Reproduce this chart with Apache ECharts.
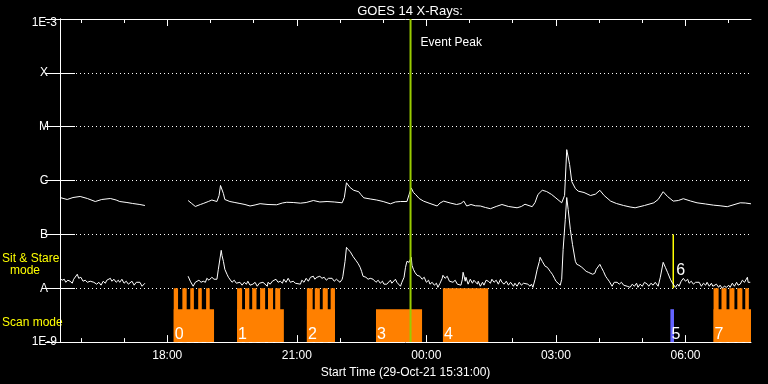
<!DOCTYPE html>
<html><head><meta charset="utf-8">
<script src="https://cdn.jsdelivr.net/npm/echarts@6/dist/echarts.min.js"></script>
<style>html,body{margin:0;padding:0;background:#000}#c{width:768px;height:384px}</style>
</head><body><div id="c"></div>
<script>
// ---- data ----
const TITLE = 'GOES 14 X-Rays:';
const START_LABEL = 'Start Time (29-Oct-21 15:31:00)';
const START_CLOCK = '15:31';
const SPAN_MINUTES = 960;
const hourTickClock = ['16:00','17:00','18:00','19:00','20:00','21:00','22:00','23:00','00:00','01:00','02:00','03:00','04:00','05:00','06:00','07:00'];
const xLabelClock = ['18:00','21:00','00:00','03:00','06:00'];
const yTickLabels = ['1E-9','A','B','C','M','X','1E-3']; // 1e-9 ... 1e-3
const modeLabels = ['Sit & Stare', 'mode', 'Scan mode'];

// [minutes since start, flux W/m^2]
const longXray = [[0,4.84e-7],[10,4.45e-7],[18,4.84e-7],[28,5.06e-7],[38,4.64e-7],[49,4.08e-7],[58,4.45e-7],[70,4.64e-7],[78,4.35e-7],[83,4.08e-7],[93,3.91e-7],[101,3.75e-7],[111,3.59e-7],[118,3.44e-7],[150,null],
[178,4.26e-7],[183,3.75e-7],[188,3.30e-7],[195,3.59e-7],[199,3.75e-7],[206,4.08e-7],[211,4.35e-7],[218,4.08e-7],[221,5.27e-7],[223,8.1e-7],[227,5.74e-7],[229,4.45e-7],[236,4.08e-7],[243,3.91e-7],[250,3.75e-7],[257,3.59e-7],[264,3.37e-7],[271,3.52e-7],[278,3.72e-7],[289,3.59e-7],[301,3.55e-7],[309,3.83e-7],[315,3.95e-7],[324,3.91e-7],[334,3.8e-7],[342,3.91e-7],[352,4.26e-7],[361,4.0e-7],[371,4.08e-7],[381,4.0e-7],[392,3.86e-7],[395,4.84e-7],[398,9.1e-7],[403,7.42e-7],[408,6.6e-7],[415,6.2e-7],[418,5.51e-7],[422,4.78e-7],[431,4.55e-7],[440,4.35e-7],[449,4.08e-7],[459,3.7e-7],[466,4.0e-7],[473,4.08e-7],[482,4.08e-7],[485,5.51e-7],[488,7.3e-7],[491,6.0e-7],[494,5.51e-7],[499,4.64e-7],[505,4.15e-7],[514,3.75e-7],[524,3.37e-7],[528,3.83e-7],[533,4.15e-7],[542,3.83e-7],[551,3.59e-7],[557,3.75e-7],[561,4.15e-7],[565,3.37e-7],[571,3.59e-7],[577,3.40e-7],[584,3.37e-7],[591,3.16e-7],[598,3.0e-7],[606,3.30e-7],[614,3.59e-7],[623,3.30e-7],[635,3.12e-7],[641,3.30e-7],[646,3.63e-7],[656,3.27e-7],[660,3.91e-7],[664,5.51e-7],[670,6.6e-7],[676,6.26e-7],[683,5.51e-7],[689,4.74e-7],[697,3.86e-7],[701,5.27e-7],[704,3.75e-6],[708,1.98e-6],[711,9.58e-7],[716,7.11e-7],[720,6.35e-7],[728,6.0e-7],[737,5.27e-7],[744,5.6e-7],[750,6.6e-7],[756,5.27e-7],[765,4.15e-7],[773,3.75e-7],[783,3.44e-7],[792,3.23e-7],[799,3.12e-7],[812,3.44e-7],[825,3.86e-7],[831,4.45e-7],[838,6.2e-7],[844,5.06e-7],[852,4.15e-7],[859,4.26e-7],[866,4.6e-7],[876,4.17e-7],[885,3.86e-7],[897,3.67e-7],[908,3.49e-7],[917,3.40e-7],[927,3.27e-7],[935,3.52e-7],[945,3.86e-7],[952,3.83e-7],[960,3.7e-7]];

const shortXray = [[0,1.53e-8],[3,1.41e-8],[6,1.47e-8],[8,1.29e-8],[11,1.41e-8],[14,1.35e-8],[17,1.24e-8],[19,1.47e-8],[24,1.82e-8],[26,1.53e-8],[29,1.60e-8],[32,1.35e-8],[35,1.41e-8],[38,1.29e-8],[39,1.19e-8],[42,1.35e-8],[44,1.24e-8],[47,1.29e-8],[51,1.19e-8],[54,1.29e-8],[57,1.14e-8],[60,1.35e-8],[63,1.24e-8],[65,1.41e-8],[70,1.53e-8],[72,1.35e-8],[75,1.47e-8],[78,1.29e-8],[81,1.41e-8],[83,1.29e-8],[86,1.47e-8],[89,1.24e-8],[92,1.35e-8],[95,1.19e-8],[97,1.19e-8],[100,1.35e-8],[103,1.14e-8],[106,1.29e-8],[108,1.19e-8],[111,1.29e-8],[114,1.09e-8],[115,1.14e-8],[118,1.24e-8],[150,null],
[178,1.67e-8],[181,1.35e-8],[183,1.24e-8],[185,1.09e-8],[188,1.29e-8],[190,1.19e-8],[193,1.41e-8],[196,1.29e-8],[199,1.35e-8],[202,1.29e-8],[204,1.53e-8],[207,1.41e-8],[211,1.60e-8],[214,1.47e-8],[218,1.47e-8],[220,2.25e-8],[224,5.06e-8],[225,4.08e-8],[227,3.16e-8],[229,2.25e-8],[232,1.82e-8],[234,1.60e-8],[236,1.47e-8],[239,1.29e-8],[242,1.41e-8],[245,1.24e-8],[247,1.35e-8],[250,1.29e-8],[253,1.14e-8],[256,1.29e-8],[259,1.19e-8],[261,1.35e-8],[264,1.14e-8],[268,1.19e-8],[271,1.29e-8],[274,1.09e-8],[277,1.24e-8],[279,1.14e-8],[282,1.29e-8],[288,1.09e-8],[289,1.29e-8],[292,1.19e-8],[295,1.35e-8],[297,1.24e-8],[300,1.47e-8],[303,1.29e-8],[306,1.35e-8],[309,1.24e-8],[311,1.47e-8],[314,1.29e-8],[317,1.53e-8],[320,1.29e-8],[324,1.35e-8],[327,1.24e-8],[329,1.35e-8],[334,1.19e-8],[336,1.41e-8],[339,1.29e-8],[342,1.53e-8],[345,1.35e-8],[348,1.60e-8],[352,1.67e-8],[354,1.47e-8],[357,1.60e-8],[361,1.67e-8],[364,1.53e-8],[367,1.60e-8],[370,1.41e-8],[373,1.53e-8],[378,1.53e-8],[381,1.35e-8],[384,1.47e-8],[386,1.35e-8],[389,1.29e-8],[392,1.47e-8],[393,1.67e-8],[396,3.16e-8],[398,5.75e-8],[400,5.27e-8],[403,4.84e-8],[407,3.91e-8],[411,3.30e-8],[414,2.90e-8],[417,2.45e-8],[419,2.06e-8],[421,1.67e-8],[425,1.60e-8],[428,1.47e-8],[431,1.53e-8],[435,1.47e-8],[439,1.29e-8],[442,1.41e-8],[445,1.24e-8],[448,1.35e-8],[450,1.19e-8],[454,1.19e-8],[456,1.29e-8],[459,1.41e-8],[461,1.24e-8],[466,1.47e-8],[468,1.29e-8],[470,1.19e-8],[473,1.09e-8],[475,1.29e-8],[478,1.60e-8],[480,2.45e-8],[482,3.16e-8],[485,3.03e-8],[488,3.75e-8],[489,2.67e-8],[491,2.25e-8],[493,1.98e-8],[496,1.74e-8],[500,1.67e-8],[503,1.47e-8],[506,1.60e-8],[509,1.29e-8],[512,1.41e-8],[514,1.19e-8],[517,1.29e-8],[520,1.14e-8],[523,1.24e-8],[525,1.04e-8],[528,1.24e-8],[531,1.53e-8],[532,1.74e-8],[535,1.53e-8],[538,1.67e-8],[541,1.35e-8],[543,1.47e-8],[546,1.29e-8],[549,1.41e-8],[552,1.19e-8],[554,1.29e-8],[557,1.14e-8],[559,1.47e-8],[560,1.98e-8],[563,1.35e-8],[564,1.60e-8],[567,1.19e-8],[570,1.47e-8],[573,1.24e-8],[575,1.41e-8],[580,1.19e-8],[581,1.35e-8],[584,1.09e-8],[587,1.29e-8],[589,1.14e-8],[592,1.41e-8],[595,1.35e-8],[598,1.24e-8],[600,1.47e-8],[603,1.29e-8],[606,1.41e-8],[609,1.19e-8],[612,1.47e-8],[614,1.29e-8],[617,1.19e-8],[620,1.35e-8],[623,1.14e-8],[626,1.29e-8],[630,1.09e-8],[632,1.24e-8],[635,1.09e-8],[638,1.29e-8],[641,1.14e-8],[644,1.24e-8],[650,1.19e-8],[651,1.29e-8],[653,1.09e-8],[655,1.19e-8],[657,1.04e-8],[660,1.47e-8],[663,2.25e-8],[666,3.16e-8],[667,3.75e-8],[670,3.16e-8],[674,2.56e-8],[677,2.45e-8],[681,2.06e-8],[684,1.82e-8],[687,1.53e-8],[689,1.35e-8],[692,1.24e-8],[695,1.14e-8],[697,1.47e-8],[699,5.27e-8],[702,1.90e-7],[704,4.84e-7],[706,2.90e-7],[709,1.24e-7],[712,6.53e-8],[716,3.16e-8],[718,2.78e-8],[721,2.67e-8],[725,2.45e-8],[728,2.25e-8],[731,2.06e-8],[734,1.98e-8],[740,1.82e-8],[743,1.90e-8],[745,2.25e-8],[750,2.78e-8],[752,2.45e-8],[755,2.06e-8],[758,1.67e-8],[760,1.53e-8],[763,1.35e-8],[767,1.09e-8],[770,1.29e-8],[774,1.29e-8],[777,1.19e-8],[780,1.29e-8],[783,1.14e-8],[785,1.24e-8],[788,1.09e-8],[792,1.04e-8],[795,1.19e-8],[798,1.09e-8],[801,1.24e-8],[803,1.04e-8],[806,1.19e-8],[809,1.09e-8],[812,1.29e-8],[816,1.19e-8],[818,1.09e-8],[821,1.24e-8],[824,1.14e-8],[827,1.29e-8],[831,1.09e-8],[834,1.60e-8],[838,3.03e-8],[841,2.45e-8],[844,1.98e-8],[848,1.47e-8],[851,1.24e-8],[855,1.04e-8],[858,1.19e-8],[860,1.09e-8],[863,1.35e-8],[866,1.53e-8],[869,1.35e-8],[872,1.47e-8],[874,1.24e-8],[877,1.35e-8],[880,1.19e-8],[883,1.29e-8],[885,1.19e-8],[888,1.29e-8],[891,1.09e-8],[894,1.24e-8],[897,1.14e-8],[899,1.29e-8],[902,1.09e-8],[905,1.24e-8],[907,1.09e-8],[912,1.19e-8],[915,1.04e-8],[917,1.14e-8],[920,1.00e-8],[923,1.09e-8],[926,1.04e-8],[929,1.14e-8],[931,1.04e-8],[934,1.24e-8],[937,1.09e-8],[940,1.29e-8],[942,1.14e-8],[945,1.19e-8],[948,1.41e-8],[951,1.29e-8],[955,1.60e-8],[956,1.29e-8],[959,1.29e-8]];

// observing modes: [start, end] minutes since start
const stareBlocks = [[158,164],[170,176],[181,186],[192,197],[203,208],[246,253],[257,263],[267,273],[278,285],[289,296],[299,306],[343,351],[354,361],[365,372],[376,382],[532,595],[908,915],[919,926],[930,937],[941,948],[952,957]];
const scanBlocks = [[158,214],[246,311],[343,382],[439,503],[908,960]];
const blueScanBlocks = [[848,853]];
const sitStareLines = [[852, 1e-7, 1e-8]]; // time, from flux, to flux
const STARE_LEVEL = 1e-8;
const SCAN_LEVEL = 4.08e-9;
const FLOOR = 1e-9;
const eventNumbers = ['0','1','2','3','4','5','6','7'];
const eventStart = [158,246,343,439,532,848,852,908];
const eventLabelFlux = [1e-9,1e-9,1e-9,1e-9,1e-9,1e-9,1.5e-8,1e-9];
const eventPeakTime = 487;
const eventPeakLabel = 'Event Peak';

// ---- build ----
const FONT = '"Liberation Sans", Arial, sans-serif';
const ORANGE = '#ff8000', BLUE = '#6464ff', YELLOW = '#ffff00', GREEN = '#99cc00';
function clockToMin(c){ const [h,m]=c.split(':').map(Number); const [sh,sm]=START_CLOCK.split(':').map(Number); let t=h*60+m-(sh*60+sm); if(t<0)t+=1440; return t; }
function minToClock(v){ const [sh,sm]=START_CLOCK.split(':').map(Number); let t=(sh*60+sm+Math.round(v))%1440; const h=Math.floor(t/60), m=t%60; return String(h).padStart(2,'0')+':'+String(m).padStart(2,'0'); }
const hourTicks = hourTickClock.map(clockToMin);
const labelTicks = xLabelClock.map(clockToMin);

const modeData = [];
scanBlocks.forEach(b => modeData.push({value:[b[0], b[1], SCAN_LEVEL], itemStyle:{color:ORANGE}}));
stareBlocks.forEach(b => modeData.push({value:[b[0], b[1], STARE_LEVEL], itemStyle:{color:ORANGE}}));
blueScanBlocks.forEach(b => modeData.push({value:[b[0], b[1], SCAN_LEVEL], itemStyle:{color:BLUE}}));

const baseX = {type:'value', min:0, max:SPAN_MINUTES, gridIndex:0, splitLine:{show:false}};
const white = {color:'#fff', width:1};

const chart = echarts.init(document.getElementById('c'), null, {renderer:'canvas'});
chart.setOption({
  backgroundColor:'#000',
  animation:false,
  title:{text:TITLE, left:405, top:0, textAlign:'center', textStyle:{color:'#fff', fontSize:13, fontWeight:'normal', fontFamily:FONT}},
  grid:{left:60, right:17, top:19, bottom:41, containLabel:false},
  xAxis:[
    Object.assign({}, baseX, {position:'bottom', axisLine:{show:true, lineStyle:white},
      axisTick:{show:true, inside:true, length:4, customValues:hourTicks, lineStyle:white},
      axisLabel:{show:true, customValues:labelTicks, formatter:v=>minToClock(v), color:'#fff', fontSize:12, fontFamily:FONT, margin:8},
      name:START_LABEL, nameLocation:'middle', nameGap:23, nameTextStyle:{color:'#fff', fontSize:12, fontFamily:FONT}}),
    Object.assign({}, baseX, {position:'bottom', axisLine:{show:false},
      axisTick:{show:true, inside:true, length:7, customValues:labelTicks, lineStyle:white}, axisLabel:{show:false}}),
    Object.assign({}, baseX, {position:'top', axisLine:{show:true, lineStyle:white},
      axisTick:{show:true, inside:true, length:4, customValues:hourTicks, lineStyle:white}, axisLabel:{show:false}}),
    Object.assign({}, baseX, {position:'top', axisLine:{show:false},
      axisTick:{show:true, inside:true, length:7, customValues:labelTicks, lineStyle:white}, axisLabel:{show:false}})
  ],
  yAxis:[
    {type:'log', logBase:10, min:1e-9, max:1e-3, position:'left',
     axisLine:{show:true, lineStyle:white},
     axisTick:{show:true, inside:true, length:15, lineStyle:white},
     splitLine:{show:true, lineStyle:{color:'#fff', width:1, type:[1,3]}},
     axisLabel:{show:true, color:'#fff', fontSize:12, fontFamily:FONT, margin:3,
       formatter:v=>{ const e=Math.round(Math.log10(v)); const s=yTickLabels[e+9]; if(s.length>1) return (e===-3?'{sp|}\n':'')+'{w|'+s+'}'; return '{c|'+s+'}'; },
       rich:{ c:{width:26, align:'center', color:'#fff', fontSize:12, fontFamily:FONT},
              w:{color:'#fff', fontSize:12, fontFamily:FONT, lineHeight:14},
              sp:{fontSize:6, lineHeight:8} }}},
    {type:'log', logBase:10, min:1e-9, max:1e-3, position:'right',
     axisLine:{show:true, lineStyle:white},
     axisTick:{show:true, inside:true, length:15, lineStyle:white},
     splitLine:{show:false}, axisLabel:{show:false}}
  ],
  graphic:[
    {type:'text', left:2, top:253, style:{text:modeLabels[0], fill:YELLOW, font:'12px '+FONT}},
    {type:'text', left:10, top:265, style:{text:modeLabels[1], fill:YELLOW, font:'12px '+FONT}},
    {type:'text', left:2, top:317, style:{text:modeLabels[2], fill:YELLOW, font:'12px '+FONT}}
  ],
  series:[
    {type:'custom', name:'modes', xAxisIndex:0, yAxisIndex:0, encode:{x:[0,1], y:2}, z:2,
     data:modeData,
     renderItem:(params, api)=>{
       const a = api.coord([api.value(0), api.value(2)]);
       const b = api.coord([api.value(1), FLOOR]);
       return {type:'rect', shape:{x:a[0], y:a[1], width:b[0]-a[0], height:b[1]-a[1]}, style:{fill:api.visual('color')}};
     }},
    {type:'custom', name:'sitstare', xAxisIndex:0, yAxisIndex:0, encode:{x:0, y:[1,2]}, z:3,
     data:sitStareLines,
     renderItem:(params, api)=>{
       const a = api.coord([api.value(0), api.value(1)]);
       const b = api.coord([api.value(0), api.value(2)]);
       return {type:'line', shape:{x1:a[0], y1:a[1], x2:b[0], y2:b[1]}, style:{stroke:YELLOW, lineWidth:1.5}};
     }},
    {type:'line', name:'long', xAxisIndex:0, yAxisIndex:0, data:longXray, showSymbol:false, symbol:'none', connectNulls:false, z:4,
     lineStyle:{color:'#fff', width:1}},
    {type:'line', name:'short', xAxisIndex:0, yAxisIndex:0, data:shortXray, showSymbol:false, symbol:'none', connectNulls:false, z:4,
     lineStyle:{color:'#fff', width:1}},
    {type:'custom', name:'eventNumbers', xAxisIndex:0, yAxisIndex:0, encode:{x:0, y:1}, z:5,
     data:eventStart.map((t,i)=>[t, eventLabelFlux[i]]),
     renderItem:(params, api)=>{
       const p = api.coord([api.value(0), api.value(1)]);
       const dx = eventNumbers[params.dataIndex]==='6' ? 3 : 1;
       return {type:'text', x:p[0]+dx, y:p[1], style:{text:eventNumbers[params.dataIndex], fill:'#fff', font:'16px '+FONT, align:'left', verticalAlign:'bottom'}};
     }},
    {type:'custom', name:'eventPeak', xAxisIndex:0, yAxisIndex:0, encode:{x:0, y:1}, z:6,
     data:[[eventPeakTime, 1e-3]],
     renderItem:(params, api)=>{
       const a = api.coord([api.value(0), 1e-3]);
       const b = api.coord([api.value(0), FLOOR]);
       return {type:'group', children:[
         {type:'line', shape:{x1:a[0], y1:a[1], x2:b[0], y2:b[1]}, style:{stroke:GREEN, lineWidth:2}},
         {type:'text', x:a[0]+10, y:a[1]+24, style:{text:eventPeakLabel, fill:'#fff', font:'12px '+FONT, align:'left', verticalAlign:'middle'}}
       ]};
     }}
  ]
});
</script></body></html>
